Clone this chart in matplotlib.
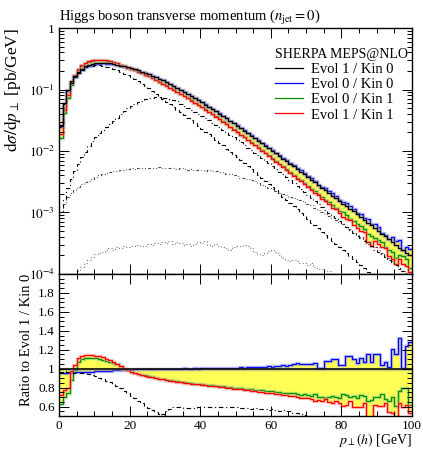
import numpy as np
import matplotlib.pyplot as plt

plt.rcParams['font.family'] = ['Liberation Serif', 'DejaVu Serif']
plt.rcParams['mathtext.fontset'] = 'stix'
plt.rcParams['font.size'] = 9

# bin edges in p_perp(h) [GeV], 1 GeV bins
edges = np.linspace(0, 100, 101)

# Evol 1 / Kin 0 (reference), dsigma/dpT [pb/GeV]
ref = [0.0263, 0.0603, 0.100, 0.135, 0.166, 0.195, 0.219, 0.240, 0.254, 0.263,
       0.269, 0.272, 0.272, 0.269, 0.266, 0.260, 0.254, 0.245, 0.237, 0.229,
       0.221, 0.214, 0.204, 0.195, 0.186, 0.178, 0.168, 0.158, 0.150, 0.141,
       0.132, 0.123, 0.115, 0.107, 0.100, 0.0923, 0.0851, 0.0785, 0.0724, 0.0668,
       0.0617, 0.0569, 0.0525, 0.0484, 0.0447, 0.0407, 0.0372, 0.0339, 0.0309, 0.0282,
       0.0257, 0.0234, 0.0214, 0.0195, 0.0178, 0.0162, 0.0148, 0.0133, 0.0122, 0.0111,
       0.0100, 0.00912, 0.00832, 0.00750, 0.00684, 0.00617, 0.00562, 0.00507, 0.00462, 0.00417,
       0.00380, 0.00343, 0.00309, 0.00282, 0.00254, 0.00229, 0.00209, 0.00188, 0.00170, 0.00155,
       0.00140, 0.00126, 0.00114, 0.00104, 0.000933, 0.000841, 0.000759, 0.000684, 0.000617, 0.000556,
       0.000501, 0.000452, 0.000407, 0.000367, 0.000331, 0.000299, 0.000269, 0.000243, 0.000219, 0.000200]

# ratios to Evol 1 / Kin 0
r_e0k0 = [0.95, 0.95, 0.955, 0.955, 0.96, 0.96, 0.962, 0.965, 0.965, 0.968,
          0.97, 0.972, 0.975, 0.977, 0.98, 0.982, 0.985, 0.987, 0.99, 0.99,
          0.99, 0.992, 0.993, 0.995, 0.995, 0.996, 0.997, 0.998, 0.998, 0.999,
          1.0, 1.0, 0.999, 1.001, 1.0, 1.002, 1.0, 1.001, 1.003, 1.0,
          1.002, 1.004, 1.003, 1.006, 1.005, 1.008, 1.004, 1.01, 1.012, 1.008,
          1.012, 1.015, 1.01, 1.018, 1.015, 1.02, 1.017, 1.022, 1.02, 1.025,
          1.02, 1.03, 1.025, 1.035, 1.03, 1.04, 1.045, 1.06, 1.05, 1.05,
          1.05, 1.045, 1.055, 1.01, 1.01, 1.08, 1.08, 1.10, 1.10, 1.04,
          1.04, 1.13, 1.13, 1.10, 1.06, 1.11, 1.07, 1.16, 1.07, 1.16,
          1.16, 1.04, 1.07, 1.02, 1.21, 1.16, 1.32, 1.01, 1.24, 1.28]
r_e0k1 = [0.63, 0.70, 0.74, 0.88, 0.99, 1.07, 1.10, 1.11, 1.11, 1.11,
          1.11, 1.10, 1.095, 1.085, 1.075, 1.06, 1.045, 1.025, 1.0, 0.985,
          0.965, 0.955, 0.945, 0.935, 0.928, 0.918, 0.91, 0.903, 0.895, 0.888,
          0.882, 0.876, 0.871, 0.866, 0.861, 0.857, 0.852, 0.848, 0.843, 0.84,
          0.835, 0.832, 0.826, 0.823, 0.818, 0.815, 0.812, 0.806, 0.804, 0.80,
          0.797, 0.792, 0.79, 0.785, 0.784, 0.778, 0.776, 0.77, 0.768, 0.762,
          0.76, 0.755, 0.752, 0.748, 0.745, 0.742, 0.738, 0.73, 0.725, 0.735,
          0.72, 0.715, 0.73, 0.70, 0.705, 0.69, 0.70, 0.715, 0.70, 0.69,
          0.73, 0.725, 0.70, 0.71, 0.695, 0.72, 0.71, 0.66, 0.67, 0.70,
          0.70, 0.73, 0.68, 0.66, 0.70, 0.61, 0.76, 0.80, 0.80, 0.62]
r_e1k1 = [0.72, 0.77, 0.80, 0.97, 1.04, 1.11, 1.13, 1.14, 1.14, 1.14,
          1.135, 1.13, 1.12, 1.105, 1.09, 1.07, 1.05, 1.03, 1.0, 0.985,
          0.965, 0.955, 0.945, 0.935, 0.927, 0.917, 0.908, 0.9, 0.893, 0.886,
          0.88, 0.874, 0.868, 0.863, 0.858, 0.853, 0.848, 0.843, 0.838, 0.834,
          0.83, 0.826, 0.82, 0.816, 0.812, 0.806, 0.802, 0.797, 0.793, 0.788,
          0.785, 0.78, 0.776, 0.77, 0.766, 0.762, 0.758, 0.752, 0.748, 0.744,
          0.74, 0.735, 0.73, 0.725, 0.72, 0.715, 0.71, 0.70, 0.695, 0.69,
          0.685, 0.68, 0.66, 0.67, 0.66, 0.675, 0.65, 0.64, 0.66, 0.64,
          0.61, 0.62, 0.66, 0.60, 0.59, 0.59, 0.64, 0.48, 0.47, 0.62,
          0.61, 0.61, 0.64, 0.54, 0.53, 0.48, 0.64, 0.59, 0.62, 0.53]

# sub-contributions of the reference
c_dash = [0.0255, 0.0585, 0.0965, 0.130, 0.159, 0.187, 0.209, 0.228, 0.239, 0.245,
          0.247, 0.246, 0.242, 0.235, 0.229, 0.218, 0.208, 0.195, 0.182, 0.169,
          0.157, 0.147, 0.135, 0.124, 0.113, 0.104, 0.0941, 0.0853, 0.078, 0.0705,
          0.0634, 0.0572, 0.0518, 0.0471, 0.043, 0.0388, 0.0349, 0.0314, 0.0282, 0.0254,
          0.0228, 0.0205, 0.0186, 0.0169, 0.0152, 0.0136, 0.0123, 0.0108, 0.00973, 0.00874,
          0.00784, 0.00702, 0.00631, 0.00566, 0.00507, 0.00454, 0.00407, 0.00359, 0.00323, 0.00289,
          0.00255, 0.00228, 0.00204, 0.0018, 0.00161, 0.00142, 0.00126, 0.00112, 0.000993, 0.000876,
          0.000779, 0.000686, 0.000618, 0.00055, 0.000483, 0.000435, 0.000387, 0.000348, 0.000306, 0.000279,
          0.000245, 0.000221, 0.000194, 0.000177, 0.000159, 0.000139, 0.000125, 0.000109, 0.0000987, 0.000089,
          0.00008, 0.000072, 0.000065, 0.000058, 0.000052, 0.000047, 0.000042, 0.000038, 0.000034, 0.00003]
c_dashdot = [0.0009, 0.0016, 0.0025, 0.0035, 0.0048, 0.0062, 0.0079, 0.0098, 0.012, 0.0143,
             0.0168, 0.0195, 0.0222, 0.025, 0.028, 0.031, 0.0345, 0.040, 0.045, 0.050,
             0.054, 0.058, 0.062, 0.066, 0.069, 0.072, 0.074, 0.075, 0.075, 0.074,
             0.073, 0.071, 0.068, 0.064, 0.059, 0.054, 0.050, 0.046, 0.0425, 0.040,
             0.037, 0.034, 0.0315, 0.029, 0.0267, 0.0244, 0.0223, 0.0203, 0.0183, 0.0167,
             0.0152, 0.0138, 0.0125, 0.0113, 0.0103, 0.0094, 0.0085, 0.0077, 0.0070, 0.0063,
             0.0057, 0.0051, 0.0046, 0.0042, 0.0038, 0.0034, 0.0030, 0.0027, 0.0024, 0.00215,
             0.0019, 0.0017, 0.00152, 0.00137, 0.00123, 0.0011, 0.00099, 0.00089, 0.0008, 0.00072,
             0.00065, 0.00058, 0.00052, 0.00047, 0.00042, 0.00038, 0.00034, 0.00031, 0.00028, 0.00025,
             0.00023, 0.00021, 0.00019, 0.00017, 0.00015, 0.00014, 0.000125, 0.000113, 0.000102, 0.000092]
c_dashdot2 = [0.0010, 0.0014, 0.0018, 0.0021, 0.0023, 0.0026, 0.0029, 0.0031, 0.0033, 0.0035,
              0.0038, 0.0040, 0.0042, 0.0044, 0.0046, 0.0047, 0.0048, 0.0049, 0.0050, 0.0051,
              0.0052, 0.0051, 0.0052, 0.0053, 0.0052, 0.0053, 0.0052, 0.0053, 0.0054, 0.0053,
              0.0052, 0.0053, 0.0052, 0.0051, 0.0052, 0.0051, 0.0050, 0.0051, 0.0050, 0.0049,
              0.0050, 0.0048, 0.0049, 0.0048, 0.0047, 0.0046, 0.0045, 0.0043, 0.0042, 0.0040,
              0.0039, 0.0037, 0.0036, 0.0035, 0.0034, 0.0032, 0.0030, 0.0028, 0.0027, 0.0025,
              0.0024, 0.0022, 0.0021, 0.0020, 0.0019, 0.0018, 0.0017, 0.00165, 0.0016, 0.0015,
              0.0014, 0.0013, 0.0012, 0.0011, 0.00103, 0.00095, 0.00088, 0.00082, 0.00075, 0.0007,
              0.00064, 0.00059, 0.00053, 0.00047, 0.00043, 0.0004, 0.00036, 0.00033, 0.0003, 0.00027,
              0.00025, 0.00022, 0.0002, 0.00018, 0.00016, 0.00014, 0.00012, 0.00011, 0.0001, 0.00009]
c_dot = [0.00003, 0.00005, 0.00007, 0.00008, 0.000095, 0.00011, 0.00013, 0.00015, 0.00017, 0.00019,
         0.00021, 0.00022, 0.00023, 0.00025, 0.00026, 0.00025, 0.00027, 0.00026, 0.00028, 0.00027,
         0.00029, 0.00028, 0.0003, 0.00028, 0.00029, 0.00031, 0.0003, 0.00032, 0.00031, 0.00033,
         0.00032, 0.00034, 0.00031, 0.00033, 0.00032, 0.0003, 0.00031, 0.00029, 0.00031, 0.00033,
         0.00032, 0.00034, 0.0003, 0.00029, 0.00031, 0.00028, 0.00027, 0.00026, 0.00025, 0.00027,
         0.00028, 0.00029, 0.0003, 0.00029, 0.00026, 0.00023, 0.00021, 0.0002, 0.00022, 0.00024,
         0.00025, 0.00023, 0.0002, 0.00018, 0.00017, 0.00016, 0.00017, 0.00016, 0.00015, 0.00015,
         0.00014, 0.00015, 0.00013, 0.00012, 0.00012, 0.00011, 0.00011, 0.0001, 0.000095, 0.00009,
         0.000085, 0.00008, 0.000075, 0.00007, 0.000065, 0.00006, 0.000058, 0.000055, 0.00005, 0.000048,
         0.000045, 0.000042, 0.00004, 0.000038, 0.000035, 0.000033, 0.00003, 0.000028, 0.000026, 0.000025]

labels = ['Evol 1 / Kin 0', 'Evol 0 / Kin 0', 'Evol 0 / Kin 1', 'Evol 1 / Kin 1']
colors = ['black', '#0000ff', '#009000', '#ff0000']
halos = ['#999999', '#8888ff', '#88cc88', '#ff9999']

ref = np.array(ref)
ratios = [np.ones(100), np.array(r_e0k0), np.array(r_e0k1), np.array(r_e1k1)]
curves = [ref * r for r in ratios]

fig = plt.figure(figsize=(4.23, 4.49), dpi=100)
ax = fig.add_axes([0.1395, 0.3898, 0.8345, 0.5478])
rx = fig.add_axes([0.1395, 0.0735, 0.8345, 0.3163], sharex=ax)

# envelope band
lo = np.min(curves, axis=0)
hi = np.max(curves, axis=0)
ax.stairs(hi, edges, baseline=lo, fill=True, color='#ffff55', lw=0)
rlo = np.min(ratios, axis=0)
rhi = np.max(ratios, axis=0)
rx.stairs(rhi, edges, baseline=rlo, fill=True, color='#ffff55', lw=0)

order = [1, 2, 3, 0]
for i in order:
    ax.stairs(curves[i], edges, color=halos[i], lw=2.4, alpha=0.5, baseline=None)
    ax.stairs(curves[i], edges, color=colors[i], lw=0.9, baseline=None)
    rx.stairs(ratios[i], edges, color=halos[i], lw=2.4, alpha=0.5, baseline=None)
    rx.stairs(ratios[i], edges, color=colors[i], lw=0.9 if i else 1.1, baseline=None)

# sub-contributions
comp_styles = [(c_dash, 'black', (0, (4, 3))),
               (c_dashdot, 'black', (0, (4, 2.5, 1, 2.5))),
               (c_dashdot2, '#444444', (0, (2.5, 2, 0.8, 2, 0.8, 2))),
               (c_dot, '#777777', (0, (1, 2)))]
for vals, col, ls in comp_styles:
    vals = np.array(vals)
    ax.stairs(vals, edges, color=col, lw=0.8, ls=ls, baseline=None)
    rx.stairs(vals / ref, edges, color=col, lw=0.8, ls=ls, baseline=None)

# legend (dummy handles)
hs = [plt.Line2D([], [], color=c, lw=0.9) for c in colors]
leg = ax.legend(hs, labels, loc='upper right', bbox_to_anchor=(0.99, 0.918),
                frameon=False, title='SHERPA MEPS@NLO', alignment='left',
                handlelength=1.9, handletextpad=0.55, labelspacing=0.13,
                borderpad=0, borderaxespad=0, fontsize=10.5, title_fontsize=10)

ax.set_yscale('log')
ax.set_ylim(1e-4, 1)
ax.set_xlim(0, 100)
ax.set_yticks([1e-4, 1e-3, 1e-2, 1e-1, 1],
              labels=['$10^{-4}$', '$10^{-3}$', '$10^{-2}$', '$10^{-1}$', '1'])
ax.tick_params(labelbottom=False)
ax.set_ylabel(r'$\mathrm{d}\sigma/\mathrm{d}p_\perp$ [pb/GeV]', loc='top', fontsize=12.5)
ax.set_title(r'Higgs boson transverse momentum ($n_\mathrm{jet}=0$)', loc='left',
             fontsize=10.5, pad=5)

rx.set_ylim(0.5, 2.0)
rx.set_yticks([0.6, 0.8, 1.0, 1.2, 1.4, 1.6, 1.8],
              labels=['0.6', '0.8', '1', '1.2', '1.4', '1.6', '1.8'])
rx.set_yticks(np.arange(0.5, 2.0, 0.05), minor=True)
rx.set_xticks([0, 20, 40, 60, 80, 100])
rx.set_xticks(np.arange(0, 101, 5), minor=True)
rx.set_ylabel('Ratio to Evol 1 / Kin 0', loc='top', fontsize=10.5)
rx.set_xlabel(r'$p_\perp(h)$ [GeV]', loc='right', fontsize=10, labelpad=-1)

for a in (ax, rx):
    a.tick_params(which='both', direction='in', top=True, right=True, width=0.7)
    a.tick_params(which='major', length=7, labelsize=9.5, pad=3)
    a.tick_params(which='minor', length=3.5)
    for s in a.spines.values():
        s.set_linewidth(1.0)

fig.savefig('out.png', dpi=100)
